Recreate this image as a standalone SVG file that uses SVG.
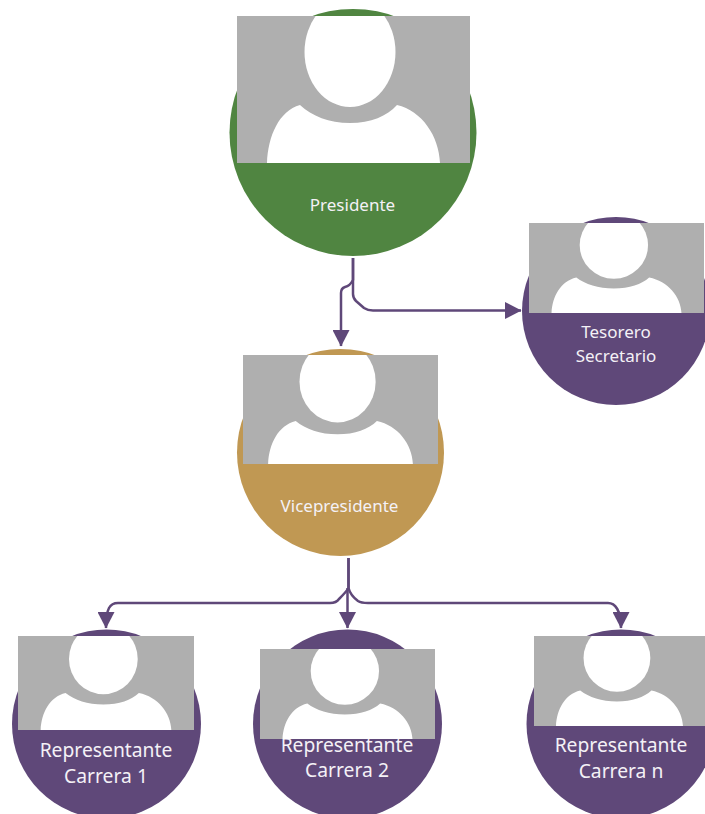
<svg xmlns="http://www.w3.org/2000/svg" xmlns:xlink="http://www.w3.org/1999/xlink" width="705" height="814" viewBox="0 0 705 814">
<style>
.label{font-family:"Noto Sans","Open Sans","Liberation Sans",sans-serif;fill:#f4f1f6;text-anchor:middle}
.s{font-size:17px}
.m{font-size:19.300px}
.conn{fill:none;stroke:#5f4879;stroke-width:2.5;stroke-linejoin:round}
.green{fill:#508541}.tan{fill:#c09853}.purple{fill:#5f4879}
</style>
<defs>
<marker id="arrow" markerUnits="userSpaceOnUse" markerWidth="17" markerHeight="17" refX="16" refY="8.5" orient="auto"><path d="M0 0L16.500 8.500L0 17Z" fill="#5f4879"/></marker>
<symbol id="avatar" viewBox="0 0 233 147" preserveAspectRatio="none">
<rect width="233" height="147" fill="#afafaf"/>
<ellipse cx="113" cy="36" rx="45.500" ry="55" fill="#fff"/>
<path d="M30 147C31 120 42 95 63 89C75 100 92 107 113 107C134 107 150 100 160 89C185 95 202 120 203 147Z" fill="#fff"/>
</symbol>
</defs>
<g id="connectors">
<path class="conn" marker-end="url(#arrow)" d="M353 258V280C351 284 349 286 345 287C342 288 341 290 341 293V346"/>
<path class="conn" marker-end="url(#arrow)" d="M353 258V294C353 298 354 299 356 301L364 308C367 310 369 310.500 373 310.500H521"/>
<path class="conn" marker-end="url(#arrow)" d="M348.500 558V588C347 591 342 596 339 599C337 602 334 603 330 603H118C110 603 106 608 106 628"/>
<path class="conn" marker-end="url(#arrow)" d="M347.500 588V628"/>
<path class="conn" marker-end="url(#arrow)" d="M348.500 558V588C350 594 354 598 358 601C361 603 364 603 368 603H608C615 603 621 610 621 628"/>
</g>
<g id="presidente"><circle class="green" cx="353" cy="132.500" r="123.500"/><use href="#avatar" x="237" y="16" width="233" height="147"/><text class="label s" x="352.500" y="211">Presidente</text></g>
<g id="tesorero"><circle class="purple" cx="616" cy="311" r="94"/><use href="#avatar" x="529" y="223" width="175" height="90"/><text class="label s" x="616" y="338">Tesorero</text><text class="label s" x="616" y="362">Secretario</text></g>
<g id="vicepresidente"><circle class="tan" cx="340.500" cy="452.500" r="103.500"/><use href="#avatar" x="243" y="355" width="195" height="109"/><text class="label s" x="339.500" y="512">Vicepresidente</text></g>
<g id="rep1"><circle class="purple" cx="106.500" cy="724" r="94.500"/><use href="#avatar" x="18" y="636" width="176" height="94"/><text class="label m" x="106" y="757">Representante</text><text class="label m" x="106" y="783">Carrera 1</text></g>
<g id="rep2"><circle class="purple" cx="347.500" cy="724" r="94.500"/><text class="label m" x="347" y="752">Representante</text><use href="#avatar" x="260" y="649" width="175" height="90"/><text class="label m" x="347" y="777">Carrera 2</text></g>
<g id="repn"><circle class="purple" cx="621" cy="724" r="94.500"/><use href="#avatar" x="534" y="636" width="171" height="90"/><text class="label m" x="621" y="752">Representante</text><text class="label m" x="621" y="778">Carrera n</text></g>
</svg>
